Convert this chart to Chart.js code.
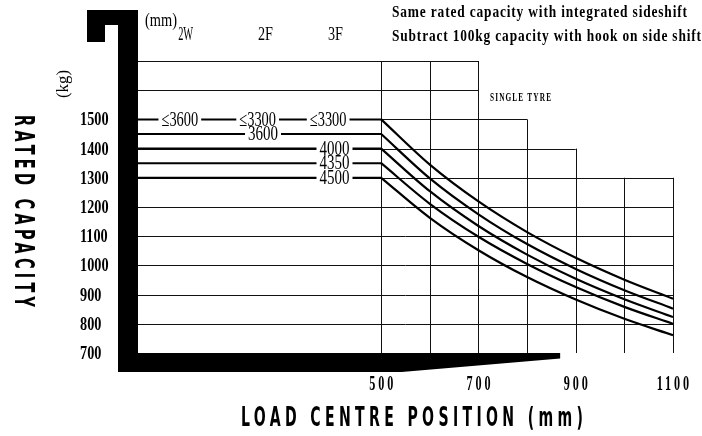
<!DOCTYPE html>
<html>
<head>
<meta charset="utf-8">
<script src="https://cdn.jsdelivr.net/npm/chart.js@4.4.1/dist/chart.umd.min.js"></script>
<style>
  html, body { margin: 0; padding: 0; background: #fff; }
  #wrap { width: 702px; height: 436px; }
</style>
</head>
<body>
<div id="wrap"><canvas id="chart" width="702" height="436"></canvas></div>
<script>
// load centre (mm) where the curves begin to drop
const loadCentres = [500, 600, 700, 800, 900, 1000, 1100];

// rated capacity (kg) per mast type / lift height
const capUpTo3600 = [1500, 1345, 1219, 1114, 1026, 951, 886];
const cap2F3600 = [1450, 1298, 1175, 1073, 988, 915, 852];
const cap3F4000 = [1400, 1254, 1135, 1037, 954, 884, 823];
const cap3F4350 = [1350, 1211, 1098, 1005, 926, 858, 800];
const cap3F4500 = [1300, 1163, 1052, 960, 883, 817, 761];

// top of the grid above each load centre (stepped outline)
const gridTops = [1700, 1700, 1700, 1500, 1400, 1300, 1300];

const yTickLabels = [700, 800, 900, 1000, 1100, 1200, 1300, 1400, 1500];
const xTickLabels = [500, 700, 900, 1100];

const mastTypes = ["2W", "2F", "3F"];
const mastTypeCentres = [98, 262, 406];

// lift heights written on the lines
const liftLabels = ["≤3600", "≤3300", "≤3300", "3600", "4000", "4350", "4500"];
const liftLabelX = [86, 246, 391, 257, 404, 404, 404];
const liftLabelY = [1500, 1500, 1500, 1450, 1400, 1350, 1300];

const allCurves = [capUpTo3600, cap2F3600, cap3F4000, cap3F4350, cap3F4500];

const SERIF = '"Liberation Serif", "DejaVu Serif", serif';
const SANS = '"DejaVu Sans", "Liberation Sans", sans-serif';

// draw text squeezed horizontally (narrow fonts of the original drawing)
function drawText(ctx, text, x, y, opt) {
  ctx.save();
  ctx.font = opt.font;
  const sp = opt.spacing || 0;
  ctx.letterSpacing = sp + "px";
  ctx.textBaseline = "middle";
  ctx.textAlign = "left";
  const natural = ctx.measureText(text).width - sp;
  const sx = opt.width ? opt.width / natural : (opt.sx || 1);
  const w = natural * sx;
  let left = x;
  if (opt.align === "center") left = x - w / 2;
  if (opt.align === "right") left = x - w;
  if (opt.bg) {
    ctx.fillStyle = "#fff";
    ctx.fillRect(left - 3, y - 7, w + 6, 14);
  }
  ctx.fillStyle = "#000";
  ctx.translate(left, y);
  ctx.scale(sx, 1);
  ctx.fillText(text, 0, 0);
  ctx.restore();
  return w;
}

const datasets = [];
allCurves.forEach((c) => {
  datasets.push({
    data: [{ x: 0, y: c[0] }, { x: loadCentres[0], y: c[0] }],
    borderColor: "#000",
    borderWidth: 2,
    pointRadius: 0,
    tension: 0,
  });
  datasets.push({
    data: loadCentres.map((x, i) => ({ x: x, y: c[i] })),
    borderColor: "#000",
    borderWidth: 2.2,
    pointRadius: 0,
    cubicInterpolationMode: "monotone",
  });
});

const drawingPlugin = {
  id: "drawing",
  beforeDatasetsDraw(chart) {
    const ctx = chart.ctx;
    const xs = chart.scales.x;
    const ys = chart.scales.y;
    ctx.save();
    ctx.strokeStyle = "#111";
    ctx.lineWidth = 1;
    // horizontal grid lines
    for (let v = 800; v <= 1700; v += 100) {
      let right = 0;
      loadCentres.forEach((x, i) => {
        if (gridTops[i] >= v) right = x;
      });
      const py = Math.round(ys.getPixelForValue(v)) + 0.5;
      ctx.beginPath();
      ctx.moveTo(xs.getPixelForValue(0), py);
      ctx.lineTo(xs.getPixelForValue(right), py);
      ctx.stroke();
    }
    // vertical grid lines
    loadCentres.forEach((x, i) => {
      const px = Math.round(xs.getPixelForValue(x)) + 0.5;
      ctx.beginPath();
      ctx.moveTo(px, ys.getPixelForValue(700));
      ctx.lineTo(px, ys.getPixelForValue(gridTops[i]));
      ctx.stroke();
    });
    ctx.restore();
  },
  afterDatasetsDraw(chart) {
    const ctx = chart.ctx;
    const xs = chart.scales.x;
    const ys = chart.scales.y;
    const x0 = xs.getPixelForValue(0);
    const yb = ys.getPixelForValue(700);
    const top = chart.chartArea.top;

    // mast and forks
    ctx.save();
    ctx.fillStyle = "#000";
    ctx.fillRect(x0 - 20, top - 51, 20, yb + 19 - (top - 51));
    ctx.fillRect(x0 - 51, top - 51, 51, 15);
    ctx.fillRect(x0 - 51, top - 51, 18, 32);
    ctx.beginPath();
    ctx.moveTo(x0 - 20, yb);
    ctx.lineTo(xs.getPixelForValue(868), yb);
    ctx.lineTo(xs.getPixelForValue(868), yb + 5.5);
    ctx.lineTo(xs.getPixelForValue(542), yb + 19);
    ctx.lineTo(x0 - 20, yb + 19);
    ctx.closePath();
    ctx.fill();
    ctx.restore();

    // lift height labels on the lines
    liftLabels.forEach((t, i) => {
      drawText(ctx, t, xs.getPixelForValue(liftLabelX[i]), ys.getPixelForValue(liftLabelY[i]) + 1, {
        font: "20px " + SERIF, sx: t.length > 4 ? 0.72 : 0.75, align: "center", bg: true,
      });
    });

    // mast type headers
    mastTypes.forEach((t, i) => {
      drawText(ctx, t, xs.getPixelForValue(mastTypeCentres[i]), top - 26, {
        font: "19px " + SERIF, width: 15, align: "center",
      });
    });
    drawText(ctx, "(mm)", 145, top - 40, { font: "19px " + SERIF, width: 32 });

    // y tick labels
    yTickLabels.forEach((v) => {
      drawText(ctx, String(v), 80, ys.getPixelForValue(v) + 1, { font: "bold 19px " + SERIF, sx: 0.75 });
    });
    // x tick labels
    xTickLabels.forEach((v) => {
      drawText(ctx, String(v), xs.getPixelForValue(v), yb + 32, {
        font: "bold 21px " + SERIF, sx: 0.58, spacing: 5, align: "center",
      });
    });

    // notes
    drawText(ctx, "Same rated capacity with integrated sideshift", 392, 13, { font: "bold 16px " + SERIF, width: 295, spacing: 1 });
    drawText(ctx, "Subtract 100kg capacity with hook on side shift", 392, 37, { font: "bold 16px " + SERIF, width: 309, spacing: 1 });
    drawText(ctx, "SINGLE TYRE", 490, 98, { font: "bold 13px " + SERIF, width: 61, spacing: 2 });

    // axis titles
    drawText(ctx, "LOAD CENTRE POSITION (mm)", 412, 419, { font: "bold 26px " + SANS, width: 342, spacing: 8, align: "center" });
    ctx.save();
    ctx.translate(22, 211);
    ctx.rotate(Math.PI / 2);
    drawText(ctx, "RATED CAPACITY", 0, 0, { font: "bold 27px " + SANS, width: 192, spacing: 8, align: "center" });
    ctx.restore();
    ctx.save();
    ctx.translate(64, 84);
    ctx.rotate(-Math.PI / 2);
    drawText(ctx, "(kg)", 0, 0, { font: "17px " + SERIF, width: 28, align: "center" });
    ctx.restore();
  },
};

new Chart(document.getElementById("chart"), {
  type: "line",
  data: { datasets: datasets },
  options: {
    responsive: false,
    animation: false,
    layout: { padding: { left: 138, right: 29, top: 61, bottom: 83 } },
    scales: {
      x: { type: "linear", min: 0, max: 1100, display: false },
      y: { type: "linear", min: 700, max: 1700, display: false },
    },
    plugins: {
      legend: { display: false },
      tooltip: { enabled: false },
    },
  },
  plugins: [drawingPlugin],
});
</script>
</body>
</html>
